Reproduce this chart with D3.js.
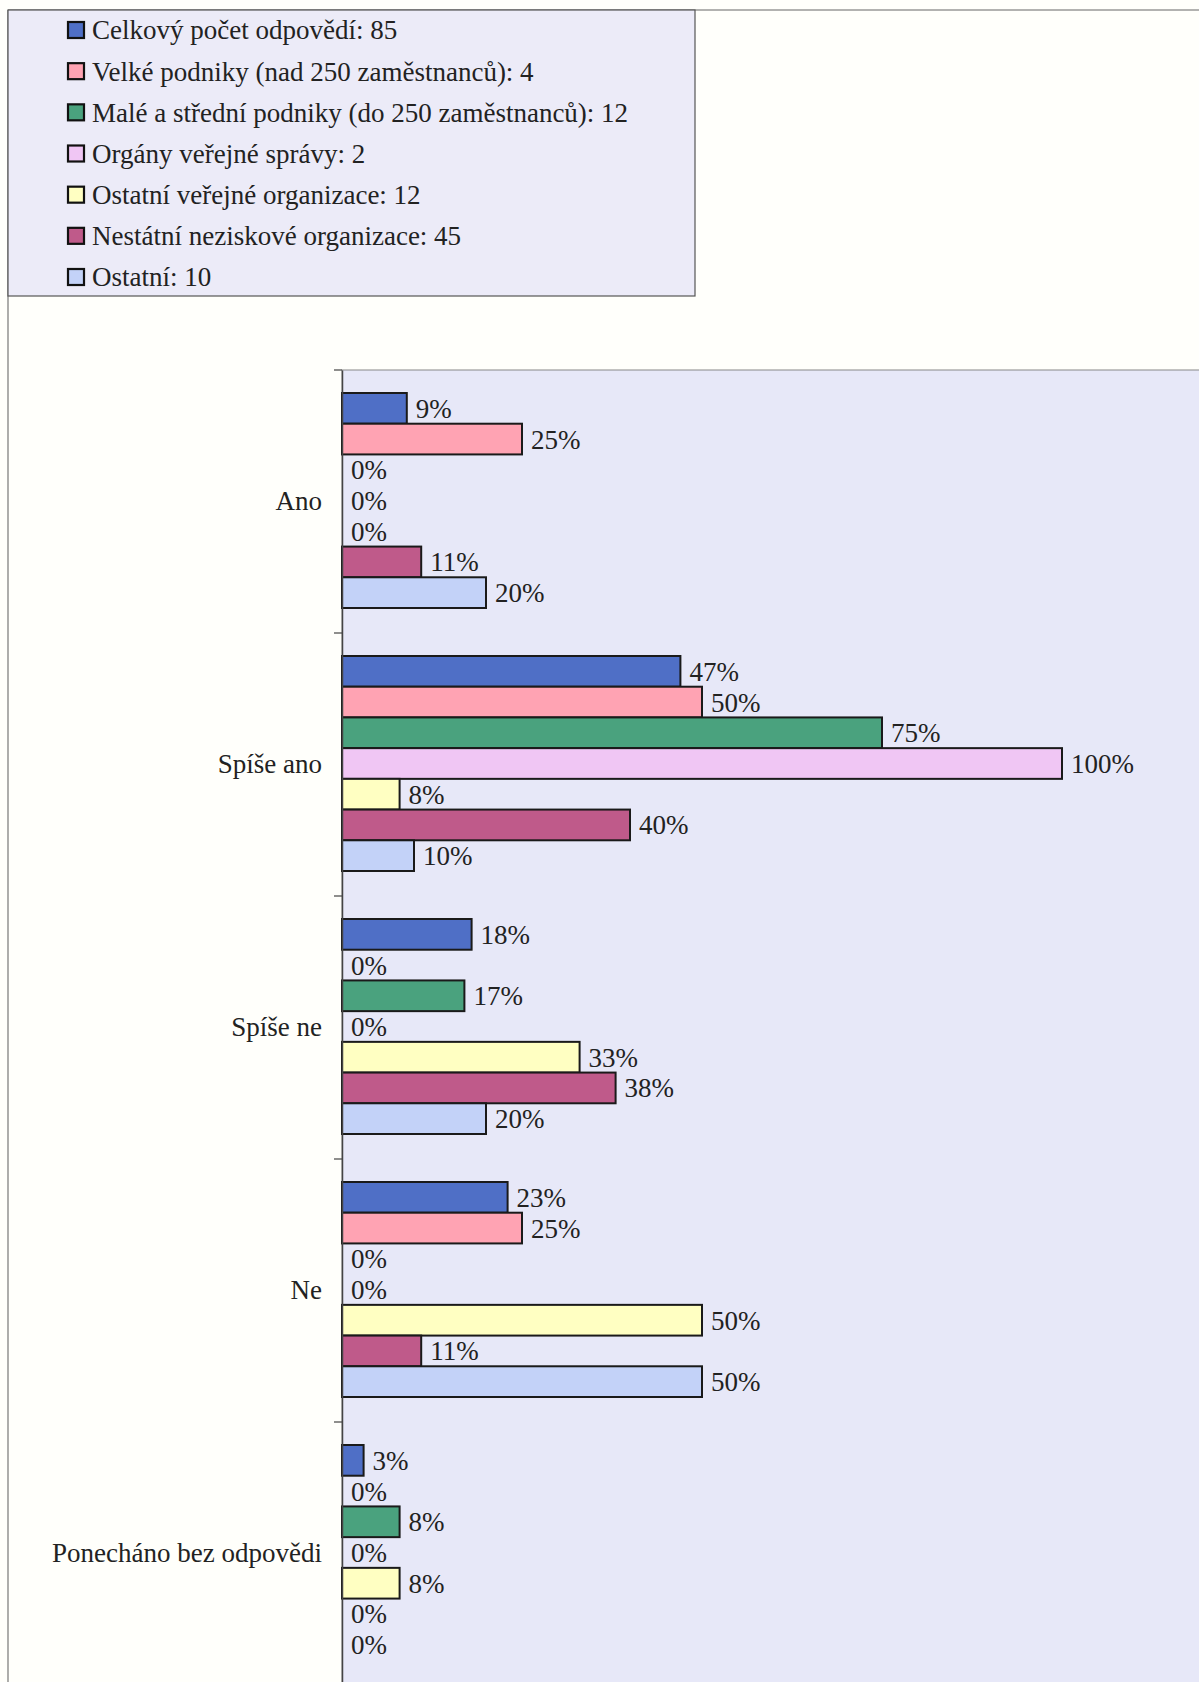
<!DOCTYPE html>
<html>
<head>
<meta charset="utf-8">
<script src="https://cdn.jsdelivr.net/npm/d3@7"></script>
<style>
  html, body { margin: 0; padding: 0; background: #fffffb; }
  svg { display: block; }
  text { font-family: "Liberation Serif", "Times New Roman", serif; fill: #222; }
</style>
</head>
<body>
<svg id="chart" width="1199" height="1682"></svg>
<script>
// Answer categories (vertical axis, top to bottom)
const categories = ["Ano", "Spíše ano", "Spíše ne", "Ne", "Ponecháno bez odpovědi"];

// Respondent groups shown in the legend
const seriesNames = [
  "Celkový počet odpovědí: 85",
  "Velké podniky (nad 250 zaměstnanců): 4",
  "Malé a střední podniky (do 250 zaměstnanců): 12",
  "Orgány veřejné správy: 2",
  "Ostatní veřejné organizace: 12",
  "Nestátní neziskové organizace: 45",
  "Ostatní: 10"
];
const seriesColors = ["#4f6fc6", "#ffa3b3", "#4aa27e", "#f0c6f4", "#ffffc2", "#bf5a8a", "#c3d2f8"];

// Share of answers (%) per group, one value per category
const celkovy    = [9, 47, 18, 23, 3];
const velke      = [25, 50, 0, 25, 0];
const maleStr    = [0, 75, 17, 0, 8];
const organy     = [0, 100, 0, 0, 0];
const ostVerejne = [0, 8, 33, 50, 8];
const nestatni   = [11, 40, 38, 11, 0];
const ostatni    = [20, 10, 20, 50, 0];
const seriesValues = [celkovy, velke, maleStr, organy, ostVerejne, nestatni, ostatni];

const svg = d3.select("#chart");
const W = 1199, H = 1682;
const FS = 27;

// page frame lines
svg.append("line").attr("x1", 8).attr("x2", W).attr("y1", 10).attr("y2", 10)
  .attr("stroke", "#666").attr("stroke-width", 1.2);
svg.append("line").attr("x1", 8).attr("x2", 8).attr("y1", 10).attr("y2", H)
  .attr("stroke", "#777").attr("stroke-width", 1.2);

// ---- legend ----
const legend = svg.append("g");
legend.append("rect")
  .attr("x", 8).attr("y", 10).attr("width", 687).attr("height", 286)
  .attr("fill", "#ecebf8").attr("stroke", "#555").attr("stroke-width", 1.2);
const rowY = d3.scalePoint().domain(d3.range(seriesNames.length)).range([30, 277]);
seriesNames.forEach((name, i) => {
  const cy = rowY(i);
  legend.append("rect")
    .attr("x", 68).attr("y", cy - 8).attr("width", 16).attr("height", 16)
    .attr("fill", seriesColors[i]).attr("stroke", "#111").attr("stroke-width", 2.2);
  legend.append("text")
    .attr("x", 92).attr("y", cy).attr("dy", "0.35em")
    .attr("font-size", FS).text(name);
});

// ---- plot ----
const plotLeft = 342, plotTop = 370, bandH = 263;
const x = d3.scaleLinear().domain([0, 100]).range([plotLeft, 1062]);
const y = d3.scaleBand().domain(categories)
  .range([plotTop, plotTop + bandH * categories.length]);
const ySub = d3.scaleBand().domain(d3.range(seriesNames.length))
  .range([23, bandH - 25]);

svg.append("rect")
  .attr("x", plotLeft).attr("y", plotTop)
  .attr("width", W - plotLeft + 5).attr("height", H - plotTop + 5)
  .attr("fill", "#e7e8f8").attr("stroke", "#888").attr("stroke-width", 1);

// bars and value labels
const rows = [];
categories.forEach((c, ci) => {
  seriesValues.forEach((vals, si) => rows.push({ cat: c, si, v: vals[ci] }));
});

const g = svg.append("g");
g.selectAll("rect.bar")
  .data(rows.filter(d => d.v > 0))
  .join("rect")
  .attr("class", "bar")
  .attr("x", x(0))
  .attr("y", d => y(d.cat) + ySub(d.si))
  .attr("width", d => x(d.v) - x(0))
  .attr("height", ySub.bandwidth())
  .attr("fill", d => seriesColors[d.si])
  .attr("stroke", "#1a1a1a").attr("stroke-width", 2);

g.selectAll("text.val")
  .data(rows)
  .join("text")
  .attr("class", "val")
  .attr("x", d => x(d.v) + 9)
  .attr("y", d => y(d.cat) + ySub(d.si) + ySub.bandwidth() / 2)
  .attr("dy", "0.35em")
  .attr("font-size", FS)
  .text(d => d.v + "%");

// category axis
const yAxis = d3.axisLeft(y).tickSize(0).tickPadding(20);
const ax = svg.append("g").attr("transform", `translate(${plotLeft},0)`).call(yAxis);
ax.select(".domain").attr("stroke", "#444").attr("stroke-width", 1.5);
ax.selectAll("text").attr("font-size", FS).attr("fill", "#222")
  .style("font-family", "'Liberation Serif', 'Times New Roman', serif");

// tick marks on band boundaries
svg.append("g").selectAll("line")
  .data(categories.map(c => y(c)).concat([y(categories[categories.length - 1]) + bandH]))
  .join("line")
  .attr("x1", plotLeft - 8).attr("x2", plotLeft)
  .attr("y1", d => d).attr("y2", d => d)
  .attr("stroke", "#444").attr("stroke-width", 1.2);
</script>
</body>
</html>
